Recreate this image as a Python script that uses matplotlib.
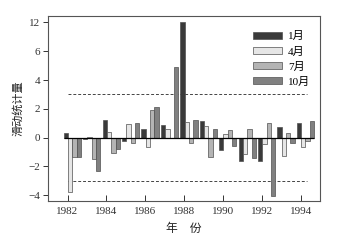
import numpy as np
import matplotlib
matplotlib.use("Agg")
import matplotlib.pyplot as plt

plt.rcParams['font.family'] = ['Liberation Serif', 'Noto Sans CJK SC']
plt.rcParams['axes.unicode_minus'] = True

# data
years = np.arange(1982, 1995)
jan = [0.35, -0.1, 1.23, -0.2, 0.6, 0.88, 12.0, 1.18, -0.86, -1.65, -1.65, 0.72, 1.0]
apr = [-3.8, 0.07, 0.37, 0.95, -0.62, 0.58, 1.1, 0.8, 0.25, -1.1, -0.45, -1.27, -0.62]
jul = [-1.37, -1.5, -1.09, -0.35, 1.92, 0.0, -0.35, -1.32, 0.53, 0.58, 1.0, 0.3, -0.22]
octo = [-1.32, -2.29, -0.81, 1.0, 2.15, 4.9, 1.25, 0.58, -0.58, -1.4, -4.02, -0.39, 1.16]
labels = ["1月", "4月", "7月", "10月"]
colors = ["#3a3a3a", "#e6e6e6", "#b4b4b4", "#808080"]
crit = 3.0
yticks = [-4, -2, 0, 2, 4, 6, 12]

# axis is compressed above 6 (12 sits where 8 would be)
def fwd(y):
    y = np.asarray(y, dtype=float)
    return np.where(y > 6, 6 + (y - 6) / 3.0, y)

def inv(y):
    y = np.asarray(y, dtype=float)
    return np.where(y > 6, 6 + (y - 6) * 3.0, y)

fig = plt.figure(figsize=(3.46, 2.46), dpi=100)
ax = fig.add_axes([0.139, 0.181, 0.786, 0.755])
ax.set_yscale('function', functions=(fwd, inv))

w = 0.223
center = years + 0.25
for i, (vals, lab, c) in enumerate(zip([jan, apr, jul, octo], labels, colors)):
    ax.bar(center + (i - 1.5) * w, vals, width=w, color=c, edgecolor="#505050",
           linewidth=0.5, label=lab, zorder=2)

left = center[0] - 2 * w
right = center[-1] + 2 * w
ax.hlines(0, left, right, color="black", lw=0.9, zorder=3)
ax.hlines([crit, -crit], years[0], years[-1] + 0.33, color="#444444",
          lw=0.7, linestyles=(0, (3, 2)), zorder=1)

ax.set_xlim(1981.0, 1995.0)
ax.set_ylim(-4.43, 13.4)
ax.set_xticks(years[::2])
ax.set_yticks(yticks)
ax.set_yticklabels([str(t).replace("-", "\u2212") for t in yticks])
ax.minorticks_off()
ax.tick_params(axis='x', direction='in', length=4, width=0.7, labelsize=8, pad=4, colors="#333333")
ax.tick_params(axis='y', direction='out', length=3.5, width=0.7, labelsize=8, pad=2, colors="#333333")
for s in ax.spines.values():
    s.set_color("#555555")
    s.set_linewidth(0.8)

ax.set_xlabel("年    份", fontsize=8.5, labelpad=5, color="#222222")
ax.set_ylabel("滑动统计量", fontsize=8, labelpad=4, color="#222222")

ax.legend(loc='upper right', frameon=False, fontsize=8, handlelength=2.6,
          handleheight=0.6, labelspacing=0.45, bbox_to_anchor=(1.0, 0.97),
          handletextpad=0.5)

fig.savefig("out.png", dpi=100)
